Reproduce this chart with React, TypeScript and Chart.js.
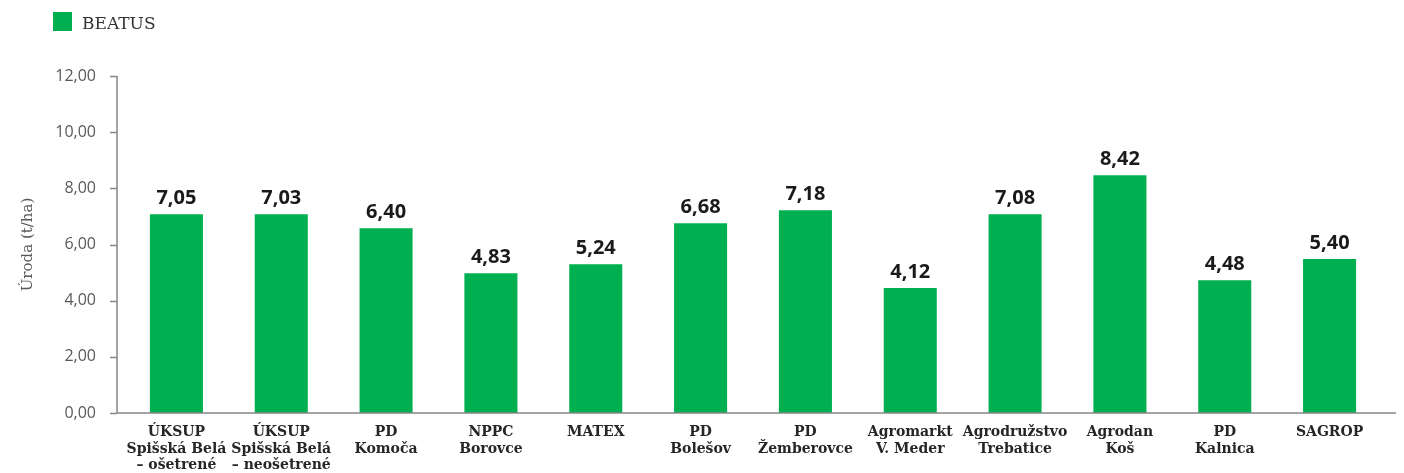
import React, { useEffect, useRef } from "react";
import { Chart, registerables } from "chart.js";

Chart.register(...registerables);

const categories: string[][] = [
  ["ÚKSUP", "Spišská Belá", "– ošetrené"],
  ["ÚKSUP", "Spišská Belá", "– neošetrené"],
  ["PD", "Komoča"],
  ["NPPC", "Borovce"],
  ["MATEX"],
  ["PD", "Bolešov"],
  ["PD", "Žemberovce"],
  ["Agromarkt", "V. Meder"],
  ["Agrodružstvo", "Trebatice"],
  ["Agrodan", "Koš"],
  ["PD", "Kalnica"],
  ["SAGROP"],
];

// bar heights as drawn in the picture
const barValues: number[] = [7.08, 7.08, 6.58, 4.98, 5.3, 6.76, 7.22, 4.45, 7.08, 8.47, 4.73, 5.48];
// value labels as printed above the bars
const valueLabels: string[] = ["7,05", "7,03", "6,40", "4,83", "5,24", "6,68", "7,18", "4,12", "7,08", "8,42", "4,48", "5,40"];

const seriesName = "BEATUS";
const yTitle = "Úroda (t/ha)";
const yMin = 0;
const yMax = 12;
const yStep = 2;

const GREEN = "#00B050";
const AXIS_COLOR = "#868686";

const fmt = (v: number) => v.toFixed(2).replace(".", ",");

const valueLabelPlugin = {
  id: "valueLabels",
  afterDatasetsDraw(chart: any) {
    const ctx = chart.ctx;
    const meta = chart.getDatasetMeta(0);
    ctx.save();
    ctx.font = "bold 20px 'Noto Sans'";
    ctx.fillStyle = "#1a1a1a";
    ctx.textAlign = "center";
    ctx.textBaseline = "alphabetic";
    meta.data.forEach((bar: any, i: number) => {
      ctx.fillText(valueLabels[i], bar.x, bar.y - 10);
    });
    ctx.restore();
  },
};

const axesPlugin = {
  id: "customAxes",
  afterDraw(chart: any) {
    const ctx = chart.ctx;
    const { chartArea } = chart;
    const y = chart.scales.y;
    const axisX = chartArea.left - 7;
    const rightX = chartArea.right + 14;
    ctx.save();
    ctx.strokeStyle = AXIS_COLOR;
    ctx.lineWidth = 1.5;
    ctx.beginPath();
    ctx.moveTo(axisX, y.getPixelForValue(yMax));
    ctx.lineTo(axisX, y.getPixelForValue(yMin));
    ctx.lineTo(rightX, y.getPixelForValue(yMin));
    y.ticks.forEach((t: any) => {
      const py = Math.round(y.getPixelForValue(t.value)) + 0.5;
      ctx.moveTo(axisX - 7, py);
      ctx.lineTo(axisX, py);
    });
    ctx.stroke();
    ctx.restore();
  },
};

const legendPlugin = {
  id: "customLegend",
  afterDraw(chart: any) {
    const ctx = chart.ctx;
    ctx.save();
    ctx.fillStyle = GREEN;
    ctx.fillRect(53, 12, 19, 19);
    ctx.font = "17px 'DejaVu Serif'";
    ctx.fillStyle = "#333333";
    ctx.textBaseline = "alphabetic";
    ctx.textAlign = "left";
    ctx.fillText(seriesName, 82, 29);
    ctx.restore();
  },
};

export default function App() {
  const canvasRef = useRef<HTMLCanvasElement | null>(null);

  useEffect(() => {
    if (!canvasRef.current) return;
    const chart = new Chart(canvasRef.current, {
      type: "bar",
      data: {
        labels: categories,
        datasets: [
          {
            label: seriesName,
            data: barValues,
            backgroundColor: GREEN,
            borderWidth: 0,
            categoryPercentage: 1,
            barPercentage: 0.506,
          },
        ],
      },
      options: {
        animation: false,
        responsive: false,
        maintainAspectRatio: false,
        devicePixelRatio: 1,
        layout: { padding: { top: 76, right: 22, bottom: 0, left: 0 } },
        plugins: {
          legend: { display: false },
          tooltip: { enabled: false },
        },
        scales: {
          x: {
            grid: { display: false, drawTicks: false },
            border: { display: false },
            ticks: {
              autoSkip: false,
              maxRotation: 0,
              minRotation: 0,
              padding: 11,
              color: "#262626",
              font: { family: "'DejaVu Serif'", size: 14, weight: "bold", lineHeight: 1.19 },
            },
            afterFit: (s: any) => {
              s.height = 60;
            },
          },
          y: {
            min: yMin,
            max: yMax,
            grid: { display: false, drawTicks: false },
            border: { display: false },
            ticks: {
              stepSize: yStep,
              padding: 28,
              color: "#595959",
              font: { family: "'Open Sans'", size: 16 },
              callback: (v: any) => fmt(Number(v)),
            },
            title: {
              display: true,
              text: yTitle,
              color: "#595959",
              font: { family: "'DejaVu Serif'", size: 15 },
              padding: { top: 19, bottom: 0 },
            },
            afterFit: (s: any) => {
              s.width = 124;
            },
          },
        },
      },
      plugins: [valueLabelPlugin, axesPlugin, legendPlugin],
    });
    return () => chart.destroy();
  }, []);

  return (
    <div style={{ position: "absolute", left: 0, top: 0, width: 1404, height: 473, background: "#fff" }}>
      <canvas ref={canvasRef} width={1404} height={473} />
    </div>
  );
}
